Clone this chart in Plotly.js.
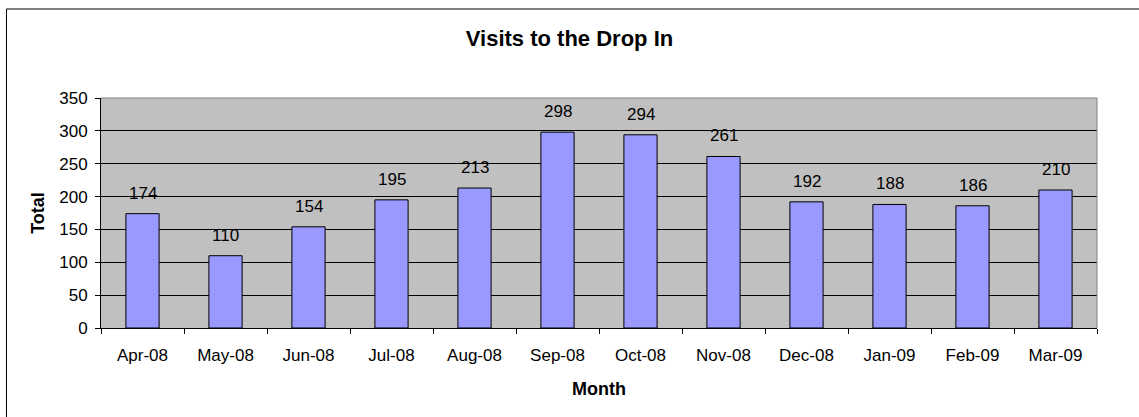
<!DOCTYPE html>
<html>
<head>
<meta charset="utf-8">
<script src="https://cdn.plot.ly/plotly-3.0.1.min.js"></script>
<style>html,body{margin:0;padding:0;background:#fff;}#chart{width:1139px;height:417px;}</style>
</head>
<body>
<div id="chart"></div>
<script>
const months = ["Apr-08","May-08","Jun-08","Jul-08","Aug-08","Sep-08","Oct-08","Nov-08","Dec-08","Jan-09","Feb-09","Mar-09"];
const totals = [174,110,154,195,213,298,294,261,192,188,186,210];
const yTicks = [0,50,100,150,200,250,300,350];

const FONT = "Liberation Sans, Arial, sans-serif";

const trace = {
  type: "bar",
  x: months,
  y: totals,
  marker: {color: "#9999FF", line: {color: "#000000", width: 1}},
  hoverinfo: "x+y"
};

const annotations = months.map((m, i) => ({
  x: m, y: totals[i], xref: "x", yref: "y",
  text: String(totals[i]), showarrow: false,
  yanchor: "bottom", yshift: 9,
  font: {family: FONT, size: 17, color: "#000"}
}));

const shapes = [
  // outer chart border (extends beyond the image at right/bottom)
  {type: "rect", xref: "paper", yref: "paper", x0: -0.0949, x1: 1.06, y0: -0.46, y1: 1.387,
   line: {color: "#000", width: 1}, fillcolor: "rgba(0,0,0,0)", layer: "below"},
  // gray plot-area border top and right
  {type: "line", xref: "paper", yref: "paper", x0: 0, x1: 1, y0: 1, y1: 1, line: {color: "#808080", width: 1}},
  {type: "line", xref: "paper", yref: "paper", x0: 1, x1: 1, y0: 0, y1: 1, line: {color: "#808080", width: 1}}
];

const layout = {
  width: 1139, height: 417,
  margin: {l: 101, r: 42, t: 98, b: 89, pad: 0},
  paper_bgcolor: "#ffffff",
  plot_bgcolor: "#C0C0C0",
  font: {family: FONT, size: 17, color: "#000"},
  title: {text: "<b>Visits to the Drop In</b>", font: {family: FONT, size: 22, color: "#000"},
          x: 0.5, xanchor: "center", y: 1 - 38/417, yanchor: "middle", yref: "container"},
  bargap: 0.6,
  showlegend: false,
  xaxis: {
    type: "category",
    title: {text: "<b>Month</b>", font: {family: FONT, size: 18}, standoff: 17},
    showline: true, linecolor: "#000", linewidth: 1,
    ticks: "outside", ticklen: 5, tickcolor: "#000", tickson: "boundaries",
    showgrid: false, zeroline: false,
    tickfont: {family: FONT, size: 17},
    ticklabelstandoff: 12
  },
  yaxis: {
    range: [0, 350],
    tickvals: yTicks,
    title: {text: "<b>Total</b>", font: {family: FONT, size: 18}, standoff: 9},
    showline: true, linecolor: "#000", linewidth: 1,
    ticks: "outside", ticklen: 5, tickcolor: "#000",
    showgrid: true, gridcolor: "#000", gridwidth: 1,
    zeroline: false,
    tickfont: {family: FONT, size: 17},
    ticklabelstandoff: 4
  },
  annotations: annotations,
  shapes: shapes
};

Plotly.newPlot("chart", [trace], layout, {staticPlot: true, displayModeBar: false});
</script>
</body>
</html>
